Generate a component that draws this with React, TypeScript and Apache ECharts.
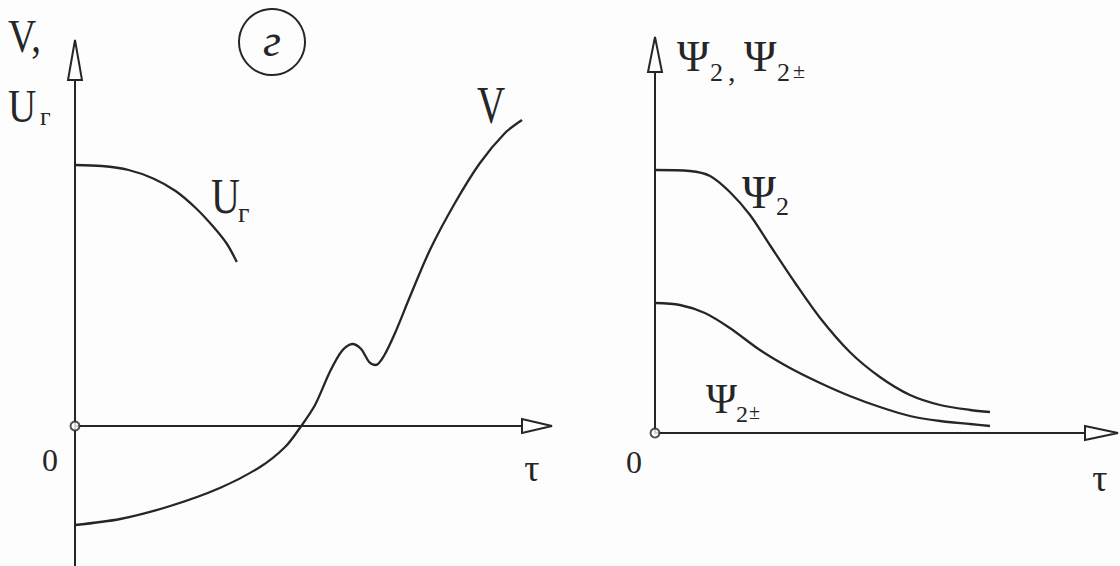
import React, { useEffect, useRef } from "react";
import * as echarts from "echarts";

// Left panel: U_г(τ) and V(τ), arbitrary units
const urX = [0, 0.6, 1.2, 1.75, 2.25, 2.7, 3.1, 3.4, 3.62];
const urY = [5.22, 5.2, 5.12, 4.95, 4.7, 4.36, 3.98, 3.64, 3.28];

const vX = [0, 1.01, 2.13, 3.24, 4.14, 4.7, 5.03, 5.37, 5.7, 5.97, 6.2, 6.4, 6.58, 6.73, 6.91, 7.16, 7.49, 7.94, 8.5, 9.06, 9.62, 10];
const vY = [-1.98, -1.86, -1.6, -1.24, -0.82, -0.42, -0.04, 0.42, 1.08, 1.5, 1.64, 1.54, 1.28, 1.22, 1.4, 1.86, 2.58, 3.52, 4.46, 5.26, 5.86, 6.12];

// Right panel: Ψ2(τ) and Ψ2±(τ)
const psiX = [0, 0.81, 1.28, 1.74, 2.21, 2.67, 3.26, 3.84, 4.53, 5.23, 5.93, 6.63, 7.33, 7.79];
const psiY = [5.26, 5.24, 5.14, 4.82, 4.36, 3.76, 3.0, 2.3, 1.62, 1.12, 0.76, 0.56, 0.46, 0.42];

const psiPmX = [0, 0.58, 1.16, 1.74, 2.44, 3.14, 3.84, 4.53, 5.23, 5.93, 6.63, 7.33, 7.79];
const psiPmY = [2.6, 2.56, 2.4, 2.1, 1.66, 1.3, 1.0, 0.74, 0.52, 0.34, 0.24, 0.18, 0.14];

const INK = "#262626";
const PAPER = "#fdfdfd";
const SERIF = "'Liberation Serif', 'DejaVu Serif', serif";

const zip = (xs: number[], ys: number[]) => xs.map((x, i) => [x, ys[i]]);

function txt(text: string, x: number, y: number, size: number, extra: any = {}) {
  return {
    type: "text",
    x,
    y,
    scaleX: extra.scaleX ?? 1,
    style: {
      text,
      fontSize: size,
      fontFamily: SERIF,
      fontStyle: extra.italic ? "italic" : "normal",
      fill: INK,
      align: extra.align ?? "left",
      verticalAlign: "middle",
    },
    z: 20,
  };
}

function arrow(points: number[][]) {
  return {
    type: "polygon",
    shape: { points },
    style: { fill: PAPER, stroke: INK, lineWidth: 2 },
    z: 10,
  };
}

function curve(name: string, gi: number, xs: number[], ys: number[]) {
  return {
    name,
    type: "line",
    xAxisIndex: gi,
    yAxisIndex: gi,
    data: zip(xs, ys),
    smooth: 0.3,
    showSymbol: false,
    clip: false,
    lineStyle: { color: INK, width: 2.3 },
  };
}

function origin(gi: number) {
  return {
    type: "scatter",
    xAxisIndex: gi,
    yAxisIndex: gi,
    data: [[0, 0]],
    symbol: "emptyCircle",
    symbolSize: 9,
    clip: false,
    itemStyle: { color: INK, borderColor: INK, borderWidth: 2 },
    z: 5,
  };
}

export default function App() {
  const ref = useRef<HTMLDivElement>(null);

  useEffect(() => {
    if (!ref.current) return;
    const chart = echarts.init(ref.current, null, { renderer: "svg" });

    const bareAxis = {
      axisTick: { show: false },
      axisLabel: { show: false },
      splitLine: { show: false },
      axisLine: { show: true, onZero: true, lineStyle: { color: INK, width: 2 } },
    };

    chart.setOption({
      animation: false,
      backgroundColor: PAPER,
      grid: [
        { left: 75, top: 80, width: 447, height: 486 },
        { left: 655, top: 72, width: 430, height: 361 },
      ],
      xAxis: [
        { type: "value", gridIndex: 0, min: 0, max: 10, ...bareAxis },
        { type: "value", gridIndex: 1, min: 0, max: 10, ...bareAxis },
      ],
      yAxis: [
        { type: "value", gridIndex: 0, min: -2.8, max: 6.92, ...bareAxis },
        { type: "value", gridIndex: 1, min: 0, max: 7.22, ...bareAxis },
      ],
      series: [
        curve("Uг", 0, urX, urY),
        curve("V", 0, vX, vY),
        curve("Ψ2", 1, psiX, psiY),
        curve("Ψ2±", 1, psiPmX, psiPmY),
        origin(0),
        origin(1),
      ],
      graphic: [
        // axis arrowheads
        arrow([[75, 40], [68, 80], [82, 80]]),
        arrow([[552, 426], [522, 419], [522, 433]]),
        arrow([[655, 37], [648, 72], [662, 72]]),
        arrow([[1118, 433], [1085, 426], [1085, 440]]),
        // panel mark
        {
          type: "circle",
          shape: { cx: 272, cy: 42, r: 33 },
          style: { fill: "none", stroke: INK, lineWidth: 2 },
        },
        txt("г", 272, 40, 46, { align: "center", italic: true }),
        // left axis titles
        txt("V,", 8, 36, 46, { scaleX: 0.85 }),
        txt("U", 8, 106, 46, { scaleX: 0.85 }),
        txt("г", 40, 116, 26),
        // left curve labels
        txt("U", 211, 196, 50, { scaleX: 0.8 }),
        txt("г", 238, 212, 28),
        txt("V", 491, 105, 52, { align: "center", scaleX: 0.75 }),
        txt("0", 50, 460, 32, { align: "center" }),
        txt("τ", 532, 468, 38, { align: "center" }),
        // right axis title
        txt("Ψ", 677, 56, 44),
        txt("2", 710, 72, 26),
        txt(",", 728, 70, 30),
        txt("Ψ", 744, 56, 44),
        txt("2", 777, 72, 26),
        txt("±", 793, 70, 22),
        // right curve labels
        txt("Ψ", 742, 192, 46),
        txt("2", 776, 206, 26),
        txt("Ψ", 706, 399, 42),
        txt("2", 736, 414, 24),
        txt("±", 749, 412, 20),
        txt("0", 634, 462, 32, { align: "center" }),
        txt("τ", 1100, 478, 38, { align: "center" }),
      ],
    });

    return () => chart.dispose();
  }, []);

  return (
    <div
      ref={ref}
      style={{ position: "fixed", left: 0, top: 0, width: 1120, height: 566 }}
    />
  );
}
